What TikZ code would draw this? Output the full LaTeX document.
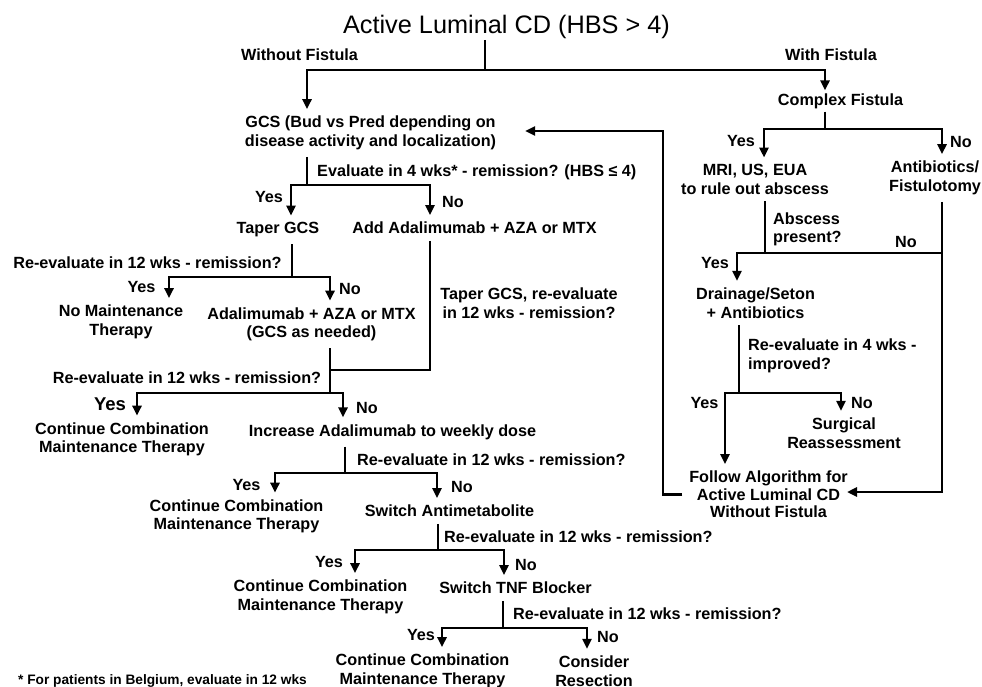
\documentclass[tikz,border=0pt]{standalone}
\usepackage{fontspec}
\setmainfont{Liberation Sans}
\usetikzlibrary{arrows.meta}
\begin{document}
\begin{tikzpicture}[x=1pt,y=-1pt,
  txt/.style={font=\fontsize{16.2}{18.5}\selectfont\bfseries, inner sep=0pt, outer sep=7pt, align=center},
  lbl/.style={font=\fontsize{16.2}{18.5}\selectfont\bfseries, inner sep=0pt},
  ln/.style={line width=2.8pt},
  arr/.style={line width=2.8pt, -{Triangle[width=9pt,length=10pt]}},
  arr2/.style={line width=2.8pt, {Triangle[width=9pt,length=10pt]}-{Triangle[width=9pt,length=10pt]}},
]
\useasboundingbox (0,0) rectangle (982,687);
% ---------- nodes (left) ----------
\node[txt, font=\fontsize{25.3}{28}\selectfont, outer sep=1pt] (title) at (506.5,27) {Active Luminal CD (HBS > 4)};
\node[lbl] (wo) at (299.5,55) {Without Fistula};
\node[lbl] (wf) at (831,55) {With Fistula};
\node[txt] (gcs) at (370.5,133) {GCS (Bud vs Pred depending on\\disease activity and localization)};
\node[lbl,anchor=west] (ev1) at (317,172) {Evaluate in 4 wks* - remission? (HBS ≤ 4)};
\node[lbl] (y1) at (269,197) {Yes};
\node[lbl,anchor=west] (n1) at (442,202) {No};
\node[txt] (taper) at (278,230) {Taper GCS};
\node[txt] (add) at (474.5,228) {Add Adalimumab + AZA or MTX};
\node[lbl] (re1) at (147.5,263) {Re-evaluate in 12 wks - remission?};
\node[lbl] (y2) at (141.5,287) {Yes};
\node[lbl,anchor=west] (n2) at (339,289) {No};
\node[txt] (nomaint) at (121,322) {No Maintenance\\Therapy};
\node[txt] (adaaza) at (311.5,324.5) {Adalimumab + AZA or MTX\\(GCS as needed)};
\node[lbl,align=center] (tlbl) at (529,303) {Taper GCS, re-evaluate\\in 12 wks - remission?};
\node[lbl] (re2) at (187,378) {Re-evaluate in 12 wks - remission?};
\node[lbl,font=\fontsize{18.5}{20}\selectfont\bfseries] (y3) at (110,404) {Yes};
\node[lbl,anchor=west] (n3) at (356,408) {No};
\node[txt] (cont1) at (122,439.5) {Continue Combination\\Maintenance Therapy};
\node[txt] (inc) at (392.5,432) {Increase Adalimumab to weekly dose};
\node[lbl,anchor=west] (re3) at (357,460) {Re-evaluate in 12 wks - remission?};
\node[lbl] (y4) at (246.5,485) {Yes};
\node[lbl,anchor=west] (n4) at (451,487) {No};
\node[txt] (cont2) at (236.5,516.5) {Continue Combination\\Maintenance Therapy};
\node[txt] (swa) at (449.5,511) {Switch Antimetabolite};
\node[lbl,anchor=west] (re4) at (444,537) {Re-evaluate in 12 wks - remission?};
\node[lbl] (y5) at (329,562) {Yes};
\node[lbl,anchor=west] (n5) at (515,565) {No};
\node[txt] (cont3) at (320.5,597) {Continue Combination\\Maintenance Therapy};
\node[txt] (tnf) at (515.5,588) {Switch TNF Blocker};
\node[lbl,anchor=west] (re5) at (513,614) {Re-evaluate in 12 wks - remission?};
\node[lbl] (y6) at (421,635) {Yes};
\node[lbl,anchor=west] (n6) at (597,637) {No};
\node[txt] (cont4) at (422.5,671) {Continue Combination\\Maintenance Therapy};
\node[txt] (cons) at (594,671) {Consider\\Resection};
\node[lbl,anchor=west,font=\fontsize{13.7}{16}\selectfont\bfseries] (foot) at (18,681) {* For patients in Belgium, evaluate in 12 wks};
% ---------- nodes (right) ----------
\node[txt,outer sep=3pt] (cf) at (840.5,101) {Complex Fistula};
\node[lbl] (y7) at (741,141) {Yes};
\node[lbl,anchor=west] (n7) at (950,142) {No};
\node[txt] (mri) at (755,179.5) {MRI, US, EUA\\to rule out abscess};
\node[txt] (anti) at (935,178) {Antibiotics/\\Fistulotomy};
\node[lbl,anchor=west,align=left] (abs) at (773,229.5) {Abscess\\present?};
\node[lbl,anchor=west] (n8) at (895,242) {No};
\node[lbl] (y8) at (715,263) {Yes};
\node[txt] (drain) at (755.5,303) {Drainage/Seton\\+ Antibiotics};
\node[lbl,anchor=west,align=left] (re6) at (748,356) {Re-evaluate in 4 wks -\\improved?};
\node[lbl] (y9) at (704.5,403) {Yes};
\node[lbl,anchor=west] (n9) at (851,403) {No};
\node[txt] (surg) at (844,433) {Surgical\\Reassessment};
\node[txt,font=\fontsize{16.2}{17.5}\selectfont\bfseries] (follow) at (768.5,494.5) {Follow Algorithm for\\Active Luminal CD\\Without Fistula};
% ---------- junction coordinates ----------
\coordinate (J0) at (485,70);  \coordinate (A0) at (307,70);  \coordinate (B0) at (825,70);
\coordinate (J1) at (307,185); \coordinate (A1) at (291,185); \coordinate (B1) at (430,185);
\coordinate (J2) at (292,277); \coordinate (A2) at (169,277); \coordinate (B2) at (330,277);
\coordinate (K1) at (430,370); \coordinate (K2) at (330,370);
\coordinate (J3) at (330,393); \coordinate (A3) at (137,393); \coordinate (B3) at (343,393);
\coordinate (J4) at (345,473); \coordinate (A4) at (275,473); \coordinate (B4) at (437,473);
\coordinate (J5) at (438,550); \coordinate (A5) at (355,550); \coordinate (B5) at (504,550);
\coordinate (J6) at (503,628); \coordinate (A6) at (442,628); \coordinate (B6) at (587,628);
\coordinate (J7) at (825,129); \coordinate (A7) at (764,129); \coordinate (B7) at (942,129);
\coordinate (J8) at (765,253); \coordinate (A8) at (737,253); \coordinate (B8) at (942,253);
\coordinate (J9) at (739,393); \coordinate (A9) at (725,393); \coordinate (B9) at (841,393);
\coordinate (L1) at (663,300);
\coordinate (fin) at ([xshift=-7.7pt,yshift=2.5pt]follow.east);
\coordinate (gin) at ([xshift=22pt,yshift=2pt]gcs.east);
% ---------- connectors ----------
\draw[ln] (title.south -| J0) -- (J0);
\draw[arr2] (gcs.north -| A0) -- (A0) -- (B0) -- (cf.north -| B0);
\draw[ln] (gcs.south -| J1) -- (J1);
\draw[arr2] (taper.north -| A1) -- (A1) -- (B1) -- (add.north -| B1);
\draw[ln] (taper.south -| J2) -- (J2);
\draw[arr2] (nomaint.north -| A2) -- (A2) -- (B2) -- (adaaza.north -| B2);
\draw[ln] (add.south -| K1) -- (K1) -- (K2);
\draw[ln] (adaaza.south -| J3) -- (J3);
\draw[arr2] (cont1.north -| A3) -- (A3) -- (B3) -- (inc.north -| B3);
\draw[ln] (inc.south -| J4) -- (J4);
\draw[arr2] (cont2.north -| A4) -- (A4) -- (B4) -- (swa.north -| B4);
\draw[ln] (swa.south -| J5) -- (J5);
\draw[arr2] (cont3.north -| A5) -- (A5) -- (B5) -- (tnf.north -| B5);
\draw[ln] (tnf.south -| J6) -- (J6);
\draw[arr2] (cont4.north -| A6) -- (A6) -- (B6) -- (cons.north -| B6);
\draw[ln] (cf.south -| J7) -- (J7);
\draw[arr2] (mri.north -| A7) -- (A7) -- (B7) -- (anti.north -| B7);
\draw[ln] (mri.south -| J8) -- (J8);
\draw[arr] (B8) -- (A8) -- (drain.north -| A8);
\draw[arr] (anti.south -| B8) |- (fin);
\draw[ln] (drain.south -| J9) -- (J9);
\draw[arr2] (follow.north -| A9) -- (A9) -- (B9) -- (surg.north -| B9);
\draw[arr] (follow.west) -| (L1) |- (gin);
\end{tikzpicture}
\end{document}
